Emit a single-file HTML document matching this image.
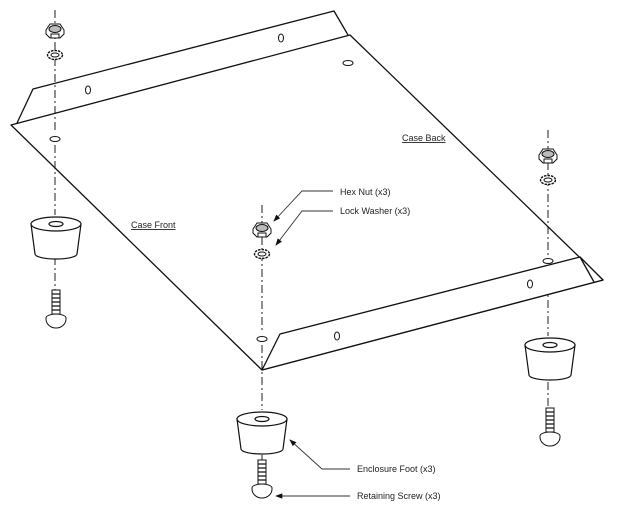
<!DOCTYPE html>
<html><head><meta charset="utf-8"><style>
html,body{margin:0;padding:0;background:#fff;}
svg{display:block;}
text{font-family:"Liberation Sans",sans-serif;font-size:9px;fill:#222;}
</style></head><body>
<svg width="620" height="526" viewBox="0 0 620 526" xmlns="http://www.w3.org/2000/svg">
<defs>
<g id="foot" fill="#fff" stroke="#111" stroke-width="1.2">
<path d="M-25,0 L-21,30 A21,5 0 0 0 21,30 L25,0 Z"/>
<ellipse cx="0" cy="0" rx="25" ry="7"/>
<ellipse cx="0" cy="0" rx="7" ry="2.5"/>
</g>
<g id="screw" fill="#fff" stroke="#111" stroke-width="1">
<rect x="-4" y="-24" width="8" height="24"/>
<path d="M-4,-20h8M-4,-16h8M-4,-12h8M-4,-8h8M-4,-4h8" stroke-width="1.3"/>
<path d="M-10,4 A10,4 0 0 1 10,4 L10,5 A10,9 0 0 1 -10,5 Z"/>
</g>
<g id="nut" fill="#fff" stroke="#111" stroke-width="1">
<path d="M-9,-1 L-5,-7 L5,-7 L9,-1 L9,3 L5,7 L-5,7 L-9,3 Z"/>
<ellipse cx="0" cy="-2" rx="6" ry="3.5" fill="#bbb"/>
<rect x="-4" y="3" width="8" height="4"/>
</g>
<g id="washer" fill="#fff" stroke="#111" stroke-width="1">
<ellipse cx="0" cy="0" rx="7.5" ry="4.5" stroke-dasharray="2.5 1" stroke-width="1.4"/>
<ellipse cx="0" cy="0" rx="4" ry="2"/>
</g>
<marker id="ar" markerWidth="8" markerHeight="6" refX="7" refY="3" orient="auto"><path d="M0,0 L8,3 L0,6 Z" fill="#111"/></marker>
</defs>

<g stroke="#222" stroke-width="1" stroke-dasharray="8 3 2 3">
<line x1="55" y1="10" x2="55" y2="130"/>
<line x1="55" y1="145" x2="55" y2="215"/>
<line x1="55" y1="257" x2="55" y2="290"/>
<line x1="262" y1="205" x2="262" y2="330"/>
<line x1="262" y1="345" x2="262" y2="410"/>
<line x1="262" y1="455" x2="262" y2="460"/>
<line x1="548" y1="130" x2="548" y2="255"/>
<line x1="548" y1="268" x2="548" y2="336"/>
<line x1="548" y1="382" x2="548" y2="408"/>
</g>

<g fill="none" stroke="#111" stroke-width="1.3" stroke-linejoin="round">
<path d="M17,123 L33,89 L334,11 L348,35"/>
<path d="M11,125 L350,35 L603,280 L262,370 Z"/>
<path d="M262,370 L280,334 L580,257 L603,280 Z" fill="#fff"/>
<line x1="580" y1="257" x2="594" y2="282"/>
</g>
<g fill="#fff" stroke="#111" stroke-width="1">
<ellipse cx="55" cy="139" rx="5" ry="2.5"/>
<ellipse cx="348" cy="63" rx="5" ry="2.5"/>
<ellipse cx="262" cy="339" rx="5" ry="2.5"/>
<ellipse cx="548" cy="261" rx="5" ry="2.5"/>
<ellipse cx="88" cy="90" rx="2.5" ry="4"/>
<ellipse cx="281" cy="38" rx="2.5" ry="4"/>
<ellipse cx="337" cy="336" rx="2.5" ry="4"/>
<ellipse cx="530" cy="284" rx="2.5" ry="4"/>
</g>

<use href="#nut" x="55" y="31"/>
<use href="#washer" x="55" y="55"/>
<use href="#foot" x="56" y="224"/>
<use href="#screw" x="56" y="314"/>

<use href="#nut" x="262" y="230"/>
<use href="#washer" x="262" y="254"/>
<use href="#foot" x="262" y="419"/>
<use href="#screw" x="262" y="484"/>

<use href="#nut" x="548" y="156"/>
<use href="#washer" x="548" y="180"/>
<use href="#foot" x="550" y="345"/>
<use href="#screw" x="550" y="432"/>

<text x="402" y="141" text-decoration="underline">Case Back</text>
<text x="131" y="228" text-decoration="underline">Case Front</text>
<text x="340" y="195">Hex Nut (x3)</text>
<text x="340" y="214">Lock Washer (x3)</text>
<text x="357" y="472">Enclosure Foot (x3)</text>
<text x="357" y="499">Retaining Screw (x3)</text>

<g fill="none" stroke="#333" stroke-width="0.9">
<path d="M333,191 L302,191 L274,221" marker-end="url(#ar)"/>
<path d="M333,211 L302,211 L276,245" marker-end="url(#ar)"/>
<path d="M350,469 L322,469 L290,440" marker-end="url(#ar)"/>
<path d="M350,496 L276,496" marker-end="url(#ar)"/>
</g>
</svg>
</body></html>
